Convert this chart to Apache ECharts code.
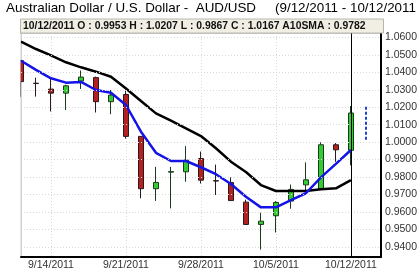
<!DOCTYPE html>
<html><head><meta charset="utf-8">
<script src="https://cdn.jsdelivr.net/npm/echarts@6/dist/echarts.min.js"></script>
<style>html,body{margin:0;padding:0;background:#fff}#c{width:420px;height:271px}</style>
</head><body><div id="c"></div>
<script>
// ---- data ----
const dates = ['9/12/2011','9/13/2011','9/14/2011','9/15/2011','9/16/2011','9/19/2011','9/20/2011','9/21/2011','9/22/2011','9/23/2011','9/26/2011','9/27/2011','9/28/2011','9/29/2011','9/30/2011','10/3/2011','10/4/2011','10/5/2011','10/6/2011','10/7/2011','10/10/2011','10/11/2011','10/12/2011','10/13/2011','10/14/2011'];
const opens  = [1.0467,1.0338,1.0304,1.0281,1.0350,1.0370,1.0232,1.0273,1.0033,0.9733,0.9828,0.9830,0.9906,0.9779,0.9769,0.9656,0.9528,0.9578,0.9662,0.9755,0.9731,0.9985,0.9953];
const closes = [1.0347,1.0336,1.0281,1.0323,1.0373,1.0232,1.0270,1.0033,0.9733,0.9769,0.9831,0.9897,0.9782,0.9777,0.9665,0.9528,0.9547,0.9654,0.9729,0.9784,0.9985,0.9956,1.0167];
const lows   = [1.0260,1.0261,1.0176,1.0184,1.0305,1.0170,1.0160,1.0020,0.9678,0.9663,0.9620,0.9773,0.9763,0.9697,0.9665,0.9528,0.9384,0.9482,0.9618,0.9713,0.9726,0.9887,0.9867];
const highs  = [1.0471,1.0370,1.0367,1.0329,1.0411,1.0376,1.0299,1.0295,1.0035,0.9858,0.9858,0.9977,0.9946,0.9871,0.9798,0.9670,0.9595,0.9662,0.9757,0.9884,0.9999,0.9995,1.0207];
const a10sma = [1.0576,1.0534,1.0497,1.0458,1.0429,1.0404,1.0375,1.0308,1.0236,1.0165,1.0123,1.0079,1.0035,0.9965,0.9888,0.9829,0.9754,0.9720,0.9720,0.9720,0.9730,0.9735,0.9782];
const fastSma = [1.0467,1.0414,1.0366,1.0341,1.0345,1.0299,1.0283,1.0213,1.0060,0.9939,0.9892,0.9892,0.9856,0.9816,0.9760,0.9687,0.9626,0.9626,0.9668,0.9707,0.9798,0.9875,0.9955];
const projectionDate = '10/13/2011';
const projectionRange = [1.0203, 1.0009];
const cursorDate = '10/12/2011';
const yTicks = [0.94,0.95,0.96,0.97,0.98,0.99,1.00,1.01,1.02,1.03,1.04,1.05,1.06];
const labelDates = ['9/14/2011','9/21/2011','9/28/2011','10/5/2011','10/12/2011'];
const titleMain = 'Australian Dollar / U.S. Dollar -  AUD/USD';
const titleRange = '(9/12/2011 - 10/12/2011';
const headerText = '10/12/2011 O : 0.9953 H : 1.0207 L : 0.9867 C : 1.0167 A10SMA : 0.9782';

// ---- chart ----
const candles = opens.map((o,i)=>[o, closes[i], lows[i], highs[i]]);
const narrow = '"Liberation Sans Narrow", "Liberation Sans", Arial, sans-serif';
const isLabel = (i, v) => labelDates.indexOf(v) >= 0;
const chart = echarts.init(document.getElementById('c'), null, {renderer:'canvas'});
chart.setOption({
  animation: false,
  backgroundColor: '#fff',
  grid: {left: 21, right: 37, top: 33, bottom: 14, show: true, borderColor: '#a0a0a0', borderWidth: 1},
  xAxis: {
    type: 'category', data: dates, boundaryGap: false,
    axisLine: {show: true, lineStyle: {color: '#000', width: 2}},
    axisTick: {show: false},
    axisLabel: {interval: isLabel, color: '#333', fontSize: 10.5, fontFamily: narrow, margin: 3},
    splitLine: {show: true, interval: isLabel, lineStyle: {color: '#d8d8d8', type: [1,2], width: 1}}
  },
  yAxis: {
    type: 'value', position: 'right', min: 0.93414, max: 1.06258, scale: true,
    axisLine: {show: true, lineStyle: {color: '#000', width: 2}},
    axisTick: {show: false},
    splitLine: {show: false},
    axisLabel: {customValues: yTicks, formatter: v => v.toFixed(4), color: '#333', fontSize: 10.5, fontFamily: narrow, margin: 4}
  },
  graphic: [
    {type: 'text', left: 6, top: 2, style: {text: titleMain, fontSize: 13.4, fontFamily: 'Liberation Sans, Arial, sans-serif', fill: '#000'}},
    {type: 'text', left: 275, top: 2, style: {text: titleRange, fontSize: 13.4, fontFamily: 'Liberation Sans, Arial, sans-serif', fill: '#000'}},
    {type: 'rect', shape: {x: 20.5, y: 19, width: 363, height: 14}, style: {fill: '#f1efe4', stroke: '#b8b6ac', lineWidth: 1}, z: 10},
    {type: 'text', x: 23, y: 26.3, style: {text: headerText, fontSize: 10.4, fontWeight: 'bold', fontFamily: 'Liberation Sans, Arial, sans-serif', fill: '#111', verticalAlign: 'middle'}, z: 11},
    {type: 'rect', shape: {x: 0, y: 34, width: 20.5, height: 222}, style: {fill: '#fff'}, z: 20, silent: true}
  ],
  series: [
    {
      type: 'line', data: [], silent: true,
      markLine: {symbol: 'none', silent: true, label: {show: false},
        lineStyle: {color: '#d8d8d8', type: [1,2], width: 1},
        data: yTicks.map(v => ({yAxis: v}))}
    },
    {
      type: 'candlestick', data: candles, barWidth: 5, clip: true,
      itemStyle: {color: '#33cc33', color0: '#b52020', borderColor: '#1e3a1e', borderColor0: '#2a1a1a', borderWidth: 1},
      markLine: {symbol: 'none', silent: true, label: {show: false},
        lineStyle: {color: '#000', type: 'solid', width: 1},
        data: [{xAxis: cursorDate}]}
    },
    {
      type: 'line', name: 'A10SMA', data: a10sma, showSymbol: false, symbol: 'none', smooth: false,
      lineStyle: {color: '#000', width: 2.5}, z: 3
    },
    {
      type: 'line', name: 'SMA', data: fastSma, showSymbol: false, symbol: 'none',
      lineStyle: {color: '#1414e6', width: 2.5}, z: 4,
      markLine: {symbol: 'none', silent: true, label: {show: false},
        lineStyle: {color: '#2244cc', type: [3,2], width: 2},
        data: [[{coord: [projectionDate, projectionRange[0]]}, {coord: [projectionDate, projectionRange[1]]}]]}
    }
  ]
});
</script></body></html>
